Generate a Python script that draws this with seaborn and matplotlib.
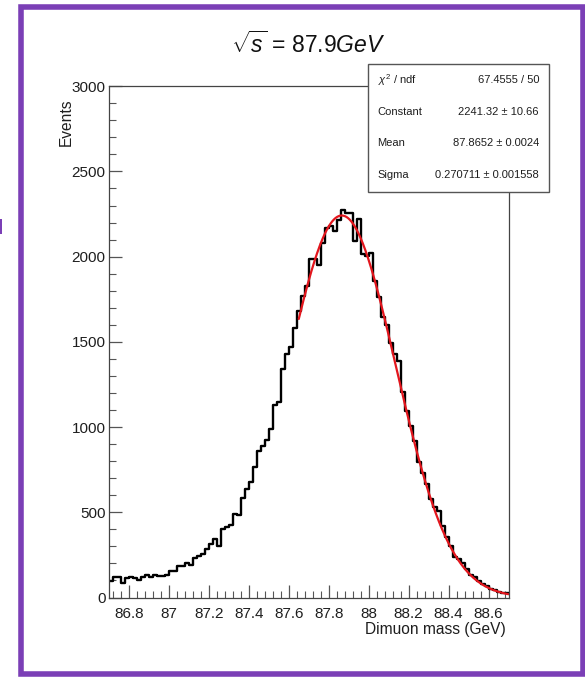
import numpy as np
import pandas as pd
import matplotlib
matplotlib.use("Agg")
import matplotlib.pyplot as plt
from matplotlib.patches import Rectangle
from matplotlib.ticker import MultipleLocator, FuncFormatter
import seaborn as sns

# Dimuon invariant-mass histogram: 100 bins of 0.02 GeV from 86.7 to 88.7
x_min, x_max, n_bins = 86.7, 88.7, 100
counts = [
    95, 121, 120, 88, 116, 118, 114, 103, 119, 131,
    118, 132, 128, 127, 134, 156, 154, 182, 184, 200,
    188, 231, 244, 258, 287, 311, 345, 304, 402, 413,
    425, 488, 484, 582, 636, 680, 768, 860, 888, 924,
    989, 1130, 1150, 1340, 1426, 1470, 1583, 1683, 1770, 1830,
    1986, 1986, 1950, 2080, 2166, 2180, 2150, 2215, 2272, 2258,
    2254, 2093, 2218, 2015, 2005, 2022, 1858, 1763, 1643, 1600,
    1496, 1428, 1385, 1203, 1095, 1007, 918, 795, 733, 664,
    576, 530, 505, 420, 355, 300, 240, 225, 200, 165,
    130, 122, 95, 80, 68, 52, 44, 35, 28, 26,
]

# Gaussian fit result
fit_constant, fit_constant_err = 2241.32, 10.66
fit_mean, fit_mean_err = 87.8652, 0.0024
fit_sigma, fit_sigma_err = 0.270711, 0.001558
chi2, ndf = 67.4555, 50
fit_range = (87.65, 88.7)

stats_labels = [r"$\chi^{2}$ / ndf", "Constant", "Mean", "Sigma"]
stats_values = [
    f"{chi2:g} / {ndf}",
    f"{fit_constant:g} \u00b1 {fit_constant_err:g}",
    f"{fit_mean:g} \u00b1 {fit_mean_err:g}",
    f"{fit_sigma:g} \u00b1 {fit_sigma_err:g}",
]

title = r"$\sqrt{s}$ = 87.9$\mathit{GeV}$"
x_title = "Dimuon mass (GeV)"
y_title = "Events"

sns.set_theme(style="ticks")
plt.rcParams["font.family"] = ["Liberation Sans", "DejaVu Sans"]
plt.rcParams["mathtext.fontset"] = "custom"
plt.rcParams["mathtext.rm"] = "Liberation Sans"
plt.rcParams["mathtext.it"] = "Liberation Sans:italic"
plt.rcParams["mathtext.bf"] = "Liberation Sans:bold"

W, H = 585, 677
fig = plt.figure(figsize=(W / 100, H / 100), dpi=100)
fig.patch.set_facecolor("white")


def fx(px):
    return px / W


def fy(py):
    return 1 - py / H


ax = fig.add_axes([fx(109), fy(597.5), fx(508.5) - fx(109), fy(86.2) - fy(597.5)])

edges = np.linspace(x_min, x_max, n_bins + 1)
centers = 0.5 * (edges[:-1] + edges[1:])
hist_df = pd.DataFrame({"mass": centers, "events": counts})
sns.histplot(data=hist_df, x="mass", weights="events", bins=n_bins,
             binrange=(x_min, x_max), element="step", fill=False,
             color="black", linewidth=1.7, ax=ax)

xf = np.linspace(fit_range[0], fit_range[1], 400)
yf = fit_constant * np.exp(-0.5 * ((xf - fit_mean) / fit_sigma) ** 2)
fit_df = pd.DataFrame({"mass": xf, "gaus": yf})
sns.lineplot(data=fit_df, x="mass", y="gaus", color="#e3161d", linewidth=1.6, ax=ax)

ax.set_xlim(x_min, x_max)
ax.set_ylim(0, 3000)
ax.set_xlabel("")
ax.set_ylabel("")
ax.xaxis.set_major_locator(MultipleLocator(0.2))
ax.xaxis.set_minor_locator(MultipleLocator(0.04))
ax.yaxis.set_major_locator(MultipleLocator(500))
ax.yaxis.set_minor_locator(MultipleLocator(100))
ax.xaxis.set_major_formatter(FuncFormatter(lambda v, p: f"{round(v, 3):g}"))
ax.yaxis.set_major_formatter(FuncFormatter(lambda v, p: f"{int(round(v))}"))

ax.tick_params(which="both", direction="in", colors="#555555", labelcolor="#1e1e1e",
               labelsize=11, top=False, right=False)
ax.tick_params(which="major", length=9.4, width=0.9)
ax.tick_params(which="minor", length=4.7, width=0.8)
ax.tick_params(axis="x", which="major", pad=6.5)
ax.tick_params(axis="y", which="major", pad=2.5)
for s in ax.spines.values():
    s.set_color("#444444")
    s.set_linewidth(0.9)

fig.text(fx(308), fy(45), title, ha="center", va="center", fontsize=16.5, color="#111111")
fig.text(fx(66), fy(99), y_title, rotation=90, ha="center", va="top",
         fontsize=11.2, color="#1e1e1e")
fig.text(fx(506), fy(629.5), x_title, ha="right", va="center",
         fontsize=11.2, color="#1e1e1e")

# statistics box
box = Rectangle((fx(368), fy(192)), fx(549) - fx(368), fy(64) - fy(192),
                transform=fig.transFigure, facecolor="white", edgecolor="#555555",
                linewidth=1.0, zorder=10)
fig.add_artist(box)
rows_y = [79.7, 111.6, 143.5, 175.0]
for lab, val, ry in zip(stats_labels, stats_values, rows_y):
    fig.text(fx(377.6), fy(ry), lab, ha="left", va="center", fontsize=8,
             color="#1e1e1e", zorder=11)
    fig.text(fx(539), fy(ry), val, ha="right", va="center", fontsize=8,
             color="#1e1e1e", zorder=11)

# purple frame around the canvas
purple = "#7b3fb6"
frame = Rectangle((fx(20.5), fy(674)), fx(582.5) - fx(20.5), fy(6.8) - fy(674),
                  transform=fig.transFigure, facecolor="none", edgecolor=purple,
                  linewidth=4.0, zorder=20)
fig.add_artist(frame)
fig.add_artist(Rectangle((0, fy(234)), fx(2.2), fy(219) - fy(234),
                         transform=fig.transFigure, facecolor=purple,
                         edgecolor="none", zorder=20))

fig.savefig("out.png", dpi=100, facecolor="white")
